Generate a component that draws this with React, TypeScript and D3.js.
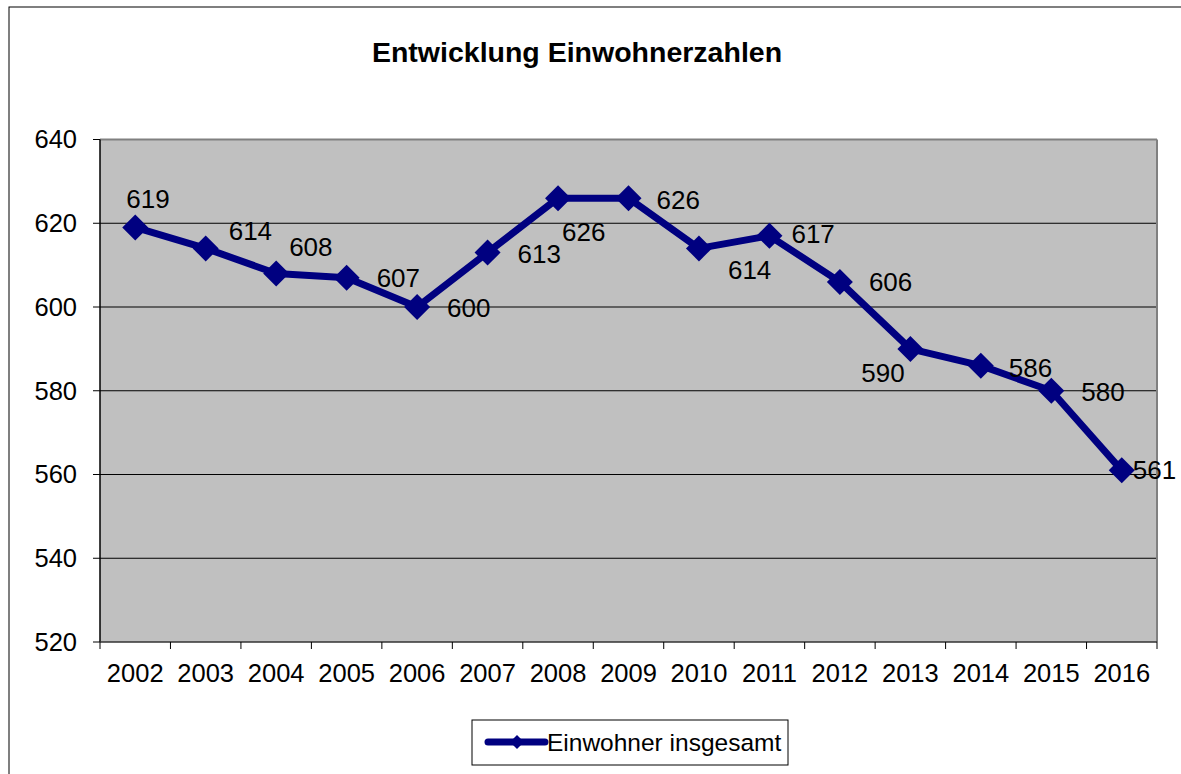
import React from "react";
import * as d3 from "d3";

const years = ["2002","2003","2004","2005","2006","2007","2008","2009","2010","2011","2012","2013","2014","2015","2016"];
const population = [619,614,608,607,600,613,626,626,614,617,606,590,586,580,561];
const yTicks = [520,540,560,580,600,620,640];
// label placement offsets (left edge dx, center dy) relative to each point
const labelDx = [-9,23,13,30,30,30,4,28,29,22,29,-49,28,30,11];
const labelDy = [-29,-17,-27,0,1,1,34,2,22,-2,0,24,2,1,0];

const TITLE = "Entwicklung Einwohnerzahlen";
const SERIES = "Einwohner insgesamt";

export default function App() {
  const W = 1181, H = 774;
  const L = 100, R = 1157, T = 139.5, B = 642;
  const x = d3.scaleBand<string>().domain(years).range([L, R]);
  const y = d3.scaleLinear().domain([520, 640]).range([B, T]);
  const cx = (yr: string) => (x(yr) as number) + x.bandwidth() / 2;
  const line = d3.line<number>().x((_, i) => cx(years[i])).y((v) => y(v));
  const diamond = (px: number, py: number, r: number) =>
    `M${px},${py - r}L${px + r},${py}L${px},${py + r}L${px - r},${py}Z`;
  const font = "Arial, 'Liberation Sans', sans-serif";
  const boundaries = years.map((yr) => x(yr) as number).concat([R]);

  return (
    <div style={{ position: "absolute", left: 0, top: 0 }}>
      <svg width={W} height={H} style={{ display: "block" }} fontFamily={font}>
        <rect x={0} y={0} width={W} height={H} fill="#fff" />
        <rect x={9} y={7} width={W + 20} height={H + 20} fill="none" stroke="#000" strokeWidth={1} />
        <text x={577} y={62} textAnchor="middle" fontSize={28.5} fontWeight="bold">{TITLE}</text>

        <rect x={L} y={T} width={R - L} height={B - T} fill="#C0C0C0" />
        {yTicks.slice(1, -1).map((t) => (
          <line key={t} x1={L} x2={R} y1={y(t)} y2={y(t)} stroke="#000" strokeWidth={1} />
        ))}
        <line x1={L} x2={R} y1={T} y2={T} stroke="#808080" strokeWidth={2} />
        <line x1={R} x2={R} y1={T} y2={B} stroke="#808080" strokeWidth={2} />
        <line x1={L} x2={L} y1={T} y2={B} stroke="#000" strokeWidth={1.5} />
        <line x1={L} x2={R} y1={B} y2={B} stroke="#333" strokeWidth={1.5} />
        {yTicks.map((t) => (
          <g key={t}>
            <line x1={L - 7} x2={L} y1={y(t)} y2={y(t)} stroke="#000" strokeWidth={1} />
            <text x={77} y={y(t)} dy="0.35em" textAnchor="end" fontSize={25.5}>{t}</text>
          </g>
        ))}
        {boundaries.map((bx, i) => (
          <line key={i} x1={bx} x2={bx} y1={B} y2={B + 7} stroke="#000" strokeWidth={1} />
        ))}
        {years.map((yr) => (
          <text key={yr} x={cx(yr)} y={682} textAnchor="middle" fontSize={25.5}>{yr}</text>
        ))}

        <path d={line(population) || ""} fill="none" stroke="#000080" strokeWidth={7} strokeLinejoin="round" />
        {population.map((v, i) => (
          <path key={i} d={diamond(cx(years[i]), y(v), 13)} fill="#000080" />
        ))}
        {population.map((v, i) => (
          <text key={i} x={cx(years[i]) + labelDx[i]} y={y(v) + labelDy[i]} dy="0.35em" fontSize={26}>{v}</text>
        ))}

        <rect x={472} y={720} width={316} height={45} fill="#fff" stroke="#000" strokeWidth={1} />
        <line x1={488} x2={545} y1={742} y2={742} stroke="#000080" strokeWidth={7} strokeLinecap="round" />
        <path d={diamond(517, 742, 7)} fill="#000080" />
        <text x={547} y={742} dy="0.35em" fontSize={24.5}>{SERIES}</text>
      </svg>
    </div>
  );
}
